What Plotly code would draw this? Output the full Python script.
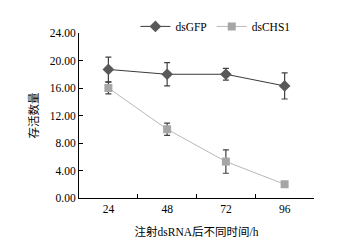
import plotly.graph_objects as go

categories = ["24", "48", "72", "96"]
gfp_values = [18.7, 18.0, 18.0, 16.3]
gfp_err = [1.8, 1.7, 0.85, 1.9]
chs_values = [16.0, 10.0, 5.3, 2.0]
chs_err = [0.85, 0.9, 1.7, 0.4]
y_ticks = [0, 4, 8, 12, 16, 20, 24]
y_ticklabels = ["%.2f" % v for v in y_ticks]

font_family = "Liberation Serif, Noto Sans CJK SC, serif"

fig = go.Figure()
fig.add_trace(go.Scatter(
    x=categories, y=gfp_values, name="dsGFP", mode="lines+markers",
    line=dict(color="#3a3a3a", width=1),
    marker=dict(symbol="diamond", size=9, color="#595959"),
    error_y=dict(type="data", array=gfp_err, color="#404040", thickness=1.2, width=3),
))
fig.add_trace(go.Scatter(
    x=categories, y=chs_values, name="dsCHS1", mode="lines+markers",
    line=dict(color="#b8b8b8", width=1),
    marker=dict(symbol="square", size=8, color="#a6a6a6"),
    error_y=dict(type="data", array=chs_err, color="#404040", thickness=1.2, width=3),
))

fig.update_layout(
    width=342, height=242,
    margin=dict(l=79, r=28, t=33, b=44, autoexpand=False),
    paper_bgcolor="white", plot_bgcolor="white",
    font=dict(family=font_family, size=11.5, color="black"),
    showlegend=True,
    legend=dict(orientation="h", x=0.24, y=1.04, xanchor="left", yanchor="middle",
                bgcolor="rgba(0,0,0,0)", font=dict(size=11.5), itemwidth=30,
                tracegroupgap=0),
    xaxis=dict(
        type="category", range=[-0.5, 3.5], showline=True, linecolor="black", linewidth=1,
        ticks="inside", ticklen=4, tickcolor="black", tickson="boundaries",
        showgrid=False, zeroline=False, automargin=False,
        title=dict(text="注射dsRNA后不同时间/h", font=dict(size=11.5), standoff=14),
    ),
    yaxis=dict(
        range=[0, 24], tickvals=y_ticks, ticktext=y_ticklabels,
        showline=True, linecolor="black", linewidth=1,
        ticks="inside", ticklen=4, tickcolor="black",
        showgrid=False, zeroline=False, automargin=False,
        title=dict(text="存活数量", font=dict(size=11.5), standoff=8),
    ),
)

fig.write_html("out.html", config={"displayModeBar": False},
               post_script="document.body.style.margin='0';")
